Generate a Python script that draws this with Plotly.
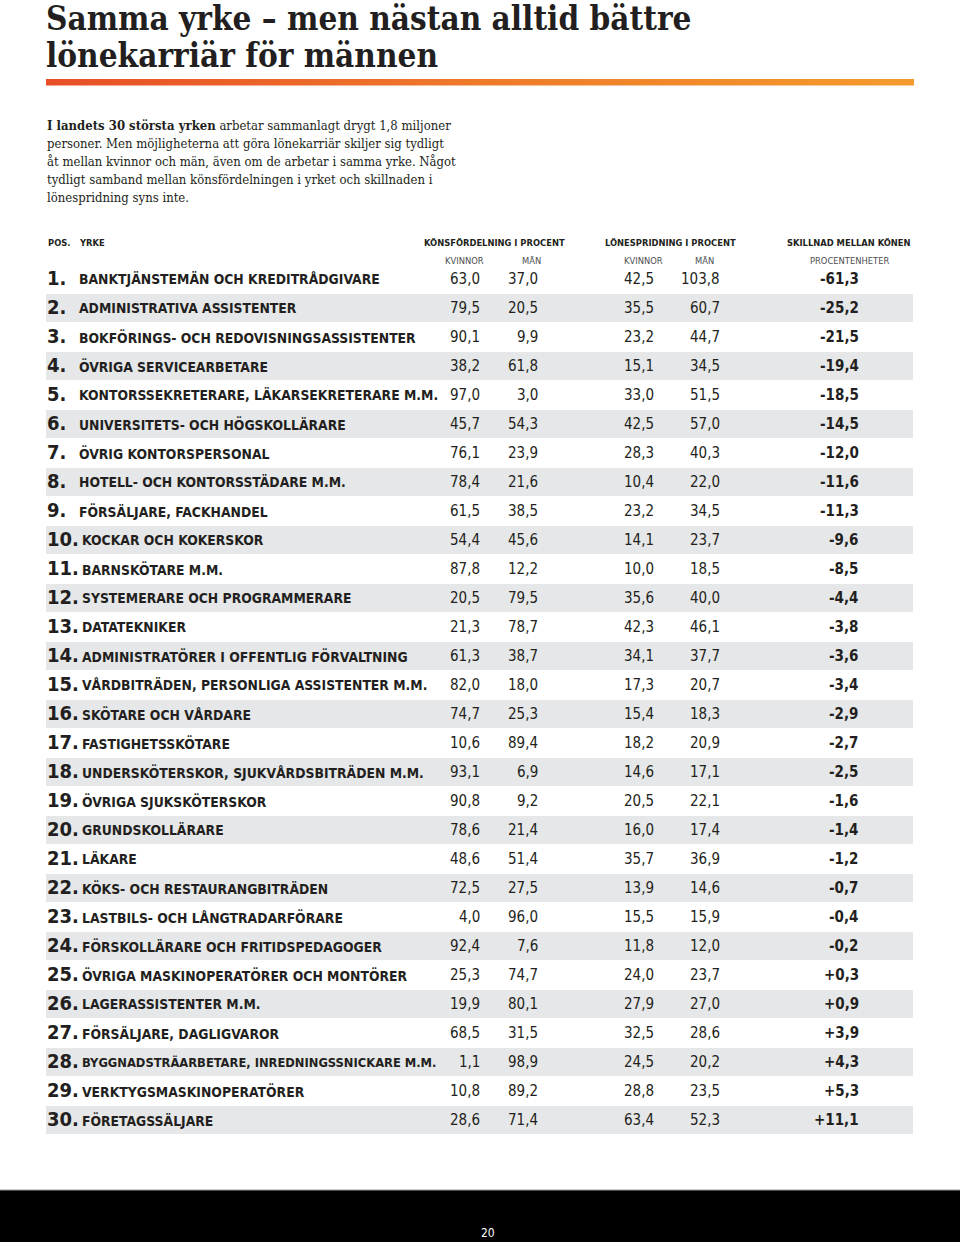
import plotly.graph_objects as go

# ---------------- data ----------------
positions = list(range(1, 31))
yrken = [
    "BANKTJÄNSTEMÄN OCH KREDITRÅDGIVARE",
    "ADMINISTRATIVA ASSISTENTER",
    "BOKFÖRINGS- OCH REDOVISNINGSASSISTENTER",
    "ÖVRIGA SERVICEARBETARE",
    "KONTORSSEKRETERARE, LÄKARSEKRETERARE M.M.",
    "UNIVERSITETS- OCH HÖGSKOLLÄRARE",
    "ÖVRIG KONTORSPERSONAL",
    "HOTELL- OCH KONTORSSTÄDARE M.M.",
    "FÖRSÄLJARE, FACKHANDEL",
    "KOCKAR OCH KOKERSKOR",
    "BARNSKÖTARE M.M.",
    "SYSTEMERARE OCH PROGRAMMERARE",
    "DATATEKNIKER",
    "ADMINISTRATÖRER I OFFENTLIG FÖRVALTNING",
    "VÅRDBITRÄDEN, PERSONLIGA ASSISTENTER M.M.",
    "SKÖTARE OCH VÅRDARE",
    "FASTIGHETSSKÖTARE",
    "UNDERSKÖTERSKOR, SJUKVÅRDSBITRÄDEN M.M.",
    "ÖVRIGA SJUKSKÖTERSKOR",
    "GRUNDSKOLLÄRARE",
    "LÄKARE",
    "KÖKS- OCH RESTAURANGBITRÄDEN",
    "LASTBILS- OCH LÅNGTRADARFÖRARE",
    "FÖRSKOLLÄRARE OCH FRITIDSPEDAGOGER",
    "ÖVRIGA MASKINOPERATÖRER OCH MONTÖRER",
    "LAGERASSISTENTER M.M.",
    "FÖRSÄLJARE, DAGLIGVAROR",
    "BYGGNADSTRÄARBETARE, INREDNINGSSNICKARE M.M.",
    "VERKTYGSMASKINOPERATÖRER",
    "FÖRETAGSSÄLJARE",
]
kons_kvinnor = [63.0, 79.5, 90.1, 38.2, 97.0, 45.7, 76.1, 78.4, 61.5, 54.4,
                87.8, 20.5, 21.3, 61.3, 82.0, 74.7, 10.6, 93.1, 90.8, 78.6,
                48.6, 72.5, 4.0, 92.4, 25.3, 19.9, 68.5, 1.1, 10.8, 28.6]
kons_man = [37.0, 20.5, 9.9, 61.8, 3.0, 54.3, 23.9, 21.6, 38.5, 45.6,
            12.2, 79.5, 78.7, 38.7, 18.0, 25.3, 89.4, 6.9, 9.2, 21.4,
            51.4, 27.5, 96.0, 7.6, 74.7, 80.1, 31.5, 98.9, 89.2, 71.4]
lon_kvinnor = [42.5, 35.5, 23.2, 15.1, 33.0, 42.5, 28.3, 10.4, 23.2, 14.1,
               10.0, 35.6, 42.3, 34.1, 17.3, 15.4, 18.2, 14.6, 20.5, 16.0,
               35.7, 13.9, 15.5, 11.8, 24.0, 27.9, 32.5, 24.5, 28.8, 63.4]
lon_man = [103.8, 60.7, 44.7, 34.5, 51.5, 57.0, 40.3, 22.0, 34.5, 23.7,
           18.5, 40.0, 46.1, 37.7, 20.7, 18.3, 20.9, 17.1, 22.1, 17.4,
           36.9, 14.6, 15.9, 12.0, 23.7, 27.0, 28.6, 20.2, 23.5, 52.3]
skillnad = [-61.3, -25.2, -21.5, -19.4, -18.5, -14.5, -12.0, -11.6, -11.3, -9.6,
            -8.5, -4.4, -3.8, -3.6, -3.4, -2.9, -2.7, -2.5, -1.6, -1.4,
            -1.2, -0.7, -0.4, -0.2, 0.3, 0.9, 3.9, 4.3, 5.3, 11.1]

title_lines = ["Samma yrke – men nästan alltid bättre", "lönekarriär för männen"]
intro_lines = [
    "<b>I landets 30 största yrken</b> arbetar sammanlagt drygt 1,8 miljoner",
    "personer. Men möjligheterna att göra lönekarriär skiljer sig tydligt",
    "åt mellan kvinnor och män, även om de arbetar i samma yrke. Något",
    "tydligt samband mellan könsfördelningen i yrket och skillnaden i",
    "lönespridning syns inte.",
]
page_number = "20"

# ---------------- styling ----------------
W, H = 960, 1242
TXT = "#231f20"
STRIPE = "#e6e7e8"
COND = "Liberation Sans Narrow, Arial Narrow, DejaVu Sans Condensed, sans-serif"
SERIF = "DejaVu Serif Condensed, DejaVu Serif, serif"
LEFT, RIGHT = 46, 913
ROW0, ROWH = 279, 29

def fmt(v):
    return f"{v:.1f}".replace(".", ",")

def fmt_sign(v):
    return f"{v:+.1f}".replace(".", ",")

fig = go.Figure()
ann = []
shapes = []

# orange gradient rule
fig.add_trace(go.Scatter(
    x=[LEFT, RIGHT + 1, RIGHT + 1, LEFT, LEFT], y=[79, 79, 85.5, 85.5, 79],
    mode="lines", line=dict(width=0), fill="toself",
    fillgradient=dict(type="horizontal",
                      colorscale=[[0, "#e84e27"], [0.5, "#ee7a2a"], [1, "#f49b2d"]]),
    hoverinfo="skip", showlegend=False))

# title
for i, t in enumerate(title_lines):
    ann.append(dict(x=LEFT - 2, y=18 + 37 * i, text=f"<b>{t}</b>", xanchor="left",
                    yanchor="middle", showarrow=False,
                    font=dict(family=SERIF, size=33, color=TXT)))

# intro
for i, t in enumerate(intro_lines):
    ann.append(dict(x=LEFT - 1, y=125 + 18 * i, text=t, xanchor="left",
                    yanchor="middle", showarrow=False,
                    font=dict(family=SERIF, size=13, color=TXT)))

# headers
HY, SY = 242, 260
hdr_font = dict(family=COND, size=9.3, color=TXT)
sub_font = dict(family=COND, size=9.3, color="#4d4d4f")
ann.append(dict(x=LEFT, y=HY, text="<b>POS.</b>", xanchor="left", yanchor="middle",
                showarrow=False, font=hdr_font))
ann.append(dict(x=77, y=HY, text="<b>YRKE</b>", xanchor="left", yanchor="middle",
                showarrow=False, font=hdr_font))
for cx, t in [(494, "KÖNSFÖRDELNING I PROCENT"), (670, "LÖNESPRIDNING I PROCENT"),
              (849, "SKILLNAD MELLAN KÖNEN")]:
    ann.append(dict(x=cx, y=HY, text=f"<b>{t}</b>", xanchor="center", yanchor="middle",
                    showarrow=False, font=hdr_font))
for cx, t in [(464, "KVINNOR"), (531, "MÄN"), (643, "KVINNOR"), (704, "MÄN"),
              (849, "PROCENTENHETER")]:
    ann.append(dict(x=cx, y=SY, text=t, xanchor="center", yanchor="middle",
                    showarrow=False, font=sub_font))

# rows
num_font = dict(family=COND, size=15, color=TXT)
for i, p in enumerate(positions):
    cy = ROW0 + ROWH * i
    if i % 2 == 1:
        shapes.append(dict(type="rect", xref="x", yref="y", x0=LEFT, x1=RIGHT,
                           y0=cy - 14, y1=cy + 14, fillcolor=STRIPE, line=dict(width=0),
                           layer="below"))
    ann.append(dict(x=LEFT - 1, y=cy - 1, text=f"<b>{p}.</b>", xanchor="left",
                    yanchor="middle", showarrow=False,
                    font=dict(family=COND, size=20, color=TXT)))
    nx = 77 if p < 10 else 80
    name_size = 13.8 if len(yrken[i]) <= 42 else 12.8
    ann.append(dict(x=nx, y=cy, text=f"<b>{yrken[i]}</b>", xanchor="left",
                    yanchor="middle", showarrow=False,
                    font=dict(family=COND, size=name_size, color=TXT)))
    for rx, v in [(482, kons_kvinnor[i]), (540, kons_man[i]),
                  (656, lon_kvinnor[i]), (722, lon_man[i])]:
        ann.append(dict(x=rx, y=cy, text=fmt(v), xanchor="right", yanchor="middle",
                        showarrow=False, font=num_font))
    ann.append(dict(x=861, y=cy, text=f"<b>{fmt_sign(skillnad[i])}</b>", xanchor="right",
                    yanchor="middle", showarrow=False, font=num_font))

# footer
shapes.append(dict(type="rect", xref="x", yref="y", x0=0, x1=W, y0=1190, y1=H,
                   fillcolor="#000000", line=dict(width=0)))
shapes.append(dict(type="line", xref="x", yref="y", x0=0, x1=W, y0=1190, y1=1190,
                   line=dict(color="#9a9a9a", width=1)))
ann.append(dict(x=488, y=1233, text=page_number, xanchor="center", yanchor="middle",
                showarrow=False, font=dict(family=COND, size=12, color="#ffffff")))

fig.update_layout(
    width=W, height=H, margin=dict(l=0, r=0, t=0, b=0),
    paper_bgcolor="#ffffff", plot_bgcolor="#ffffff",
    xaxis=dict(range=[0, W], visible=False, fixedrange=True),
    yaxis=dict(range=[H, 0], visible=False, fixedrange=True),
    annotations=ann, shapes=shapes, showlegend=False,
)
fig.write_html("out.html", config={"displayModeBar": False},
               post_script="document.body.style.margin='0';document.body.style.overflow='hidden';")
